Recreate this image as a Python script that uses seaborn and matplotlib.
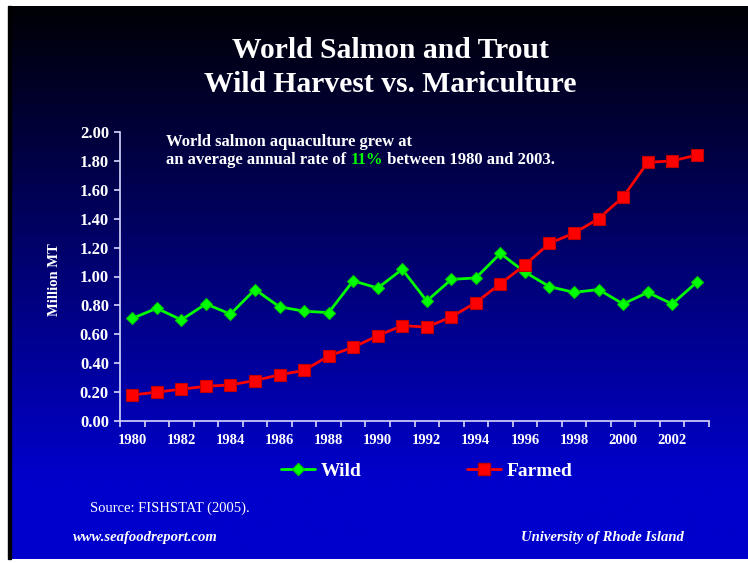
import numpy as np
import pandas as pd
import matplotlib
matplotlib.use("Agg")
import matplotlib.pyplot as plt
from matplotlib.lines import Line2D
from matplotlib.patches import Rectangle
import seaborn as sns

# ---- data (million metric tonnes) ----
years = list(range(1980, 2004))
wild = [0.71, 0.78, 0.70, 0.81, 0.74, 0.91, 0.79, 0.76, 0.75, 0.97, 0.92, 1.05,
        0.83, 0.98, 0.99, 1.16, 1.03, 0.93, 0.89, 0.91, 0.81, 0.89, 0.81, 0.96]
farmed = [0.18, 0.20, 0.22, 0.24, 0.25, 0.28, 0.32, 0.35, 0.45, 0.51, 0.59, 0.66,
          0.65, 0.72, 0.82, 0.95, 1.08, 1.23, 1.30, 1.40, 1.55, 1.79, 1.80, 1.84]
series_names = ["Wild", "Farmed"]
y_ticks = [0.0, 0.2, 0.4, 0.6, 0.8, 1.0, 1.2, 1.4, 1.6, 1.8, 2.0]
x_label_years = list(range(1980, 2003, 2))

df = pd.DataFrame({
    "Year": years * 2,
    "Value": wild + farmed,
    "Series": [series_names[0]] * len(years) + [series_names[1]] * len(years),
})

W, H = 748, 563
SERIF = "Liberation Serif"
TXT = "white"
GREEN = "#00FF00"
RED = "#FF0000"
MS_SQ, MS_DM = 8.0, 6.0

sns.set_style("white")
plt.rcParams["font.family"] = [SERIF, "DejaVu Serif"]

fig = plt.figure(figsize=(W / 100, H / 100), dpi=100)
fig.patch.set_facecolor("white")

# slide background: vertical gradient from near-black to royal blue
sx0, sx1, sy_top, sy_bot = 10, 748, 6, 559
bg = fig.add_axes([sx0 / W, 1 - sy_bot / H, (sx1 - sx0) / W, (sy_bot - sy_top) / H])
bg.set_zorder(-10)
n = 400
t = np.linspace(0, 1, n)
blue = np.clip(0.02 + 0.80 * t / 0.88, 0, 0.80)
grad = np.zeros((n, 2, 3))
grad[:, :, 2] = blue[:, None]
bg.imshow(grad, aspect="auto", extent=[0, 1, 0, 1], origin="upper")
bg.set_axis_off()
fig.patches.append(Rectangle((7.5 / W, 1 - sy_bot / H), 3 / W, (sy_bot - sy_top) / H,
                             transform=fig.transFigure, color="black", zorder=5))

# ---- main chart ----
ax = fig.add_axes([120 / W, 1 - 421 / H, (709 - 120) / W, (421 - 132) / H])
ax.patch.set_alpha(0)

sns.lineplot(data=df, x="Year", y="Value", hue="Series", style="Series",
             palette={"Wild": GREEN, "Farmed": RED},
             markers={"Wild": "D", "Farmed": "s"}, dashes=False,
             linewidth=2, markersize=MS_SQ, markeredgewidth=0.8,
             legend=False, ax=ax)
for ln in ax.lines:
    c = ln.get_color()
    ln.set_markeredgecolor("#00CC00" if c.lower() == GREEN.lower() else "#C00000")
    ln.set_markerfacecolor(c)
    if ln.get_marker() == "D":
        ln.set_markersize(MS_DM)

ax.set_xlim(1979.5, 2003.5)
ax.set_ylim(0, 2.0)
ax.set_yticks(y_ticks)
ax.set_yticklabels([f"{v:.2f}" for v in y_ticks])
ax.set_xticks(x_label_years)
ax.set_xticklabels([str(y) for y in x_label_years])
ax.set_xticks([y + 0.5 for y in range(1979, 2004)], minor=True)

spine_col = "#D8D8FF"
for s in ["top", "right"]:
    ax.spines[s].set_visible(False)
for s in ["left", "bottom"]:
    ax.spines[s].set_color(spine_col)
    ax.spines[s].set_linewidth(1.2)

ax.tick_params(axis="y", which="major", direction="out", length=4, width=1.2,
               color=spine_col, labelcolor=TXT, labelsize=12, pad=4, left=True)
ax.tick_params(axis="x", which="major", length=0, labelcolor=TXT, labelsize=10.5, pad=9)
ax.tick_params(axis="x", which="minor", direction="out", length=4, width=1.2,
               color=spine_col, bottom=True)
for lab in ax.get_yticklabels() + ax.get_xticklabels():
    lab.set_fontweight("bold")

ax.set_xlabel("")
ax.set_ylabel("")
fig.text(55 / W, 1 - 280 / H, "Million MT", rotation=90, ha="center", va="center",
         color=TXT, fontsize=10.5, fontweight="bold")

# ---- title ----
fig.text(390 / W, 1 - 50 / H, "World Salmon and Trout", ha="center", va="center",
         color=TXT, fontsize=21.3, fontweight="bold")
fig.text(390 / W, 1 - 84 / H, "Wild Harvest vs. Mariculture", ha="center", va="center",
         color=TXT, fontsize=21.3, fontweight="bold")

# ---- annotation inside the plot ----
note_fs = 12
fig.text(166 / W, 1 - 146 / H, "World salmon aquaculture grew at", ha="left",
         va="baseline", color=TXT, fontsize=note_fs, fontweight="bold")
p1 = fig.text(166 / W, 1 - 164 / H, "an average annual rate of ", ha="left",
              va="baseline", color=TXT, fontsize=note_fs, fontweight="bold")
p2 = fig.text(0, 0, "11%", color=GREEN, fontsize=note_fs, fontweight="bold",
              ha="left", va="bottom")
p3 = fig.text(0, 0, " between 1980 and 2003.", color=TXT, fontsize=note_fs,
              fontweight="bold", ha="left", va="bottom")
fig.canvas.draw()
r = fig.canvas.get_renderer()
bb1 = p1.get_window_extent(r)
p2.set_position((bb1.x1 / W, bb1.y0 / H))
fig.canvas.draw()
bb2 = p2.get_window_extent(r)
p3.set_position((bb2.x1 / W, bb2.y0 / H))

# ---- legend ----
handles = []
for name, col, mk, ms, ec in [("Wild", GREEN, "D", MS_DM, "#00CC00"),
                              ("Farmed", RED, "s", MS_SQ, "#C00000")]:
    handles.append(Line2D([], [], color=col, lw=2, marker=mk, markersize=ms,
                          markerfacecolor=col, markeredgecolor=ec, label=name))
leg = fig.legend(handles=handles, loc="center", bbox_to_anchor=(427 / W, 1 - 471 / H),
                 ncol=2, frameon=False, handlelength=1.75, handletextpad=0.3,
                 columnspacing=5.4, prop={"family": SERIF, "weight": "bold", "size": 14})
for txt in leg.get_texts():
    txt.set_color(TXT)

# ---- footer ----
fig.text(90 / W, 1 - 508 / H, "Source: FISHSTAT (2005).", ha="left", va="center",
         color=TXT, fontsize=10.5)
fig.text(73 / W, 1 - 538 / H, "www.seafoodreport.com", ha="left", va="center",
         color=TXT, fontsize=10.5, fontweight="bold", fontstyle="italic")
fig.text(684 / W, 1 - 538 / H, "University of Rhode Island", ha="right", va="center",
         color=TXT, fontsize=10.5, fontweight="bold", fontstyle="italic")

fig.savefig("out.png", dpi=100, facecolor=fig.get_facecolor())
